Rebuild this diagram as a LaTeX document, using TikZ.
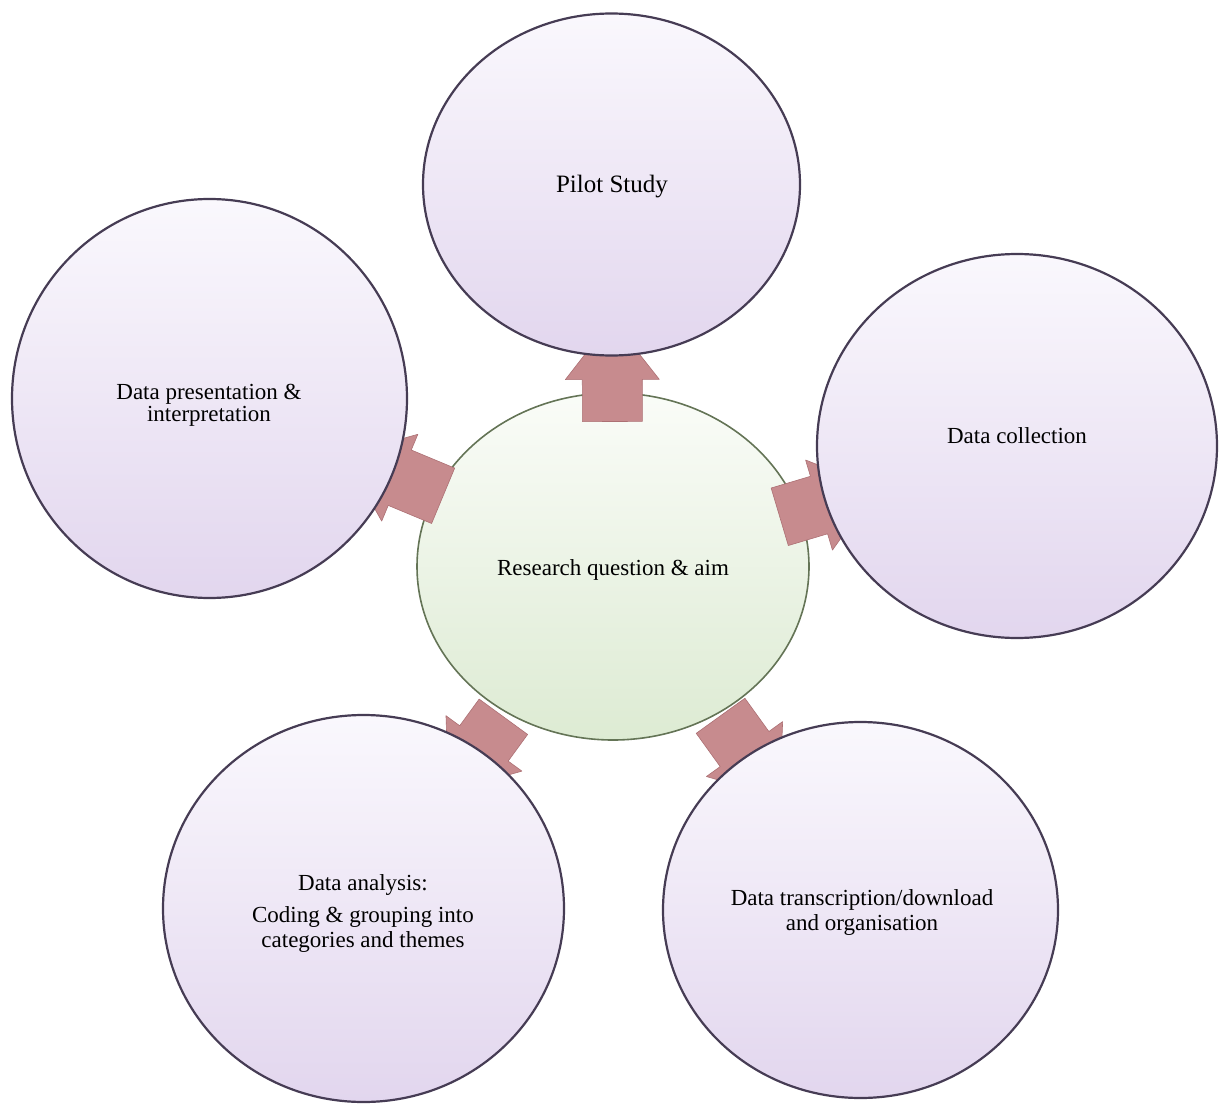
\documentclass[tikz,border=0pt]{standalone}
\usepackage{fontspec}
\setmainfont{Liberation Serif}
\usetikzlibrary{shapes.geometric,calc}
\pgfdeclarelayer{back}
\pgfdeclarelayer{mid}
\pgfsetlayers{back,mid,main}

\definecolor{lavtop}{RGB}{250,248,253}
\definecolor{lavbot}{RGB}{226,214,238}
\definecolor{lavline}{RGB}{70,60,84}
\definecolor{greentop}{RGB}{250,252,248}
\definecolor{greenbot}{RGB}{221,235,211}
\definecolor{greenline}{RGB}{100,116,86}
\definecolor{rosefill}{RGB}{199,139,142}
\definecolor{roseline}{RGB}{172,112,116}

\tikzset{
  stage/.style={ellipse, draw=lavline, line width=2.2pt, inner sep=0pt,
    top color=lavtop, bottom color=lavbot},
  hub/.style={ellipse, draw=greenline, line width=1.6pt, inner sep=0pt,
    top color=greentop, bottom color=greenbot},
  caption/.style={font=\fontsize{23}{25}\selectfont, text=black, align=center, inner sep=0pt},
  arrowbody/.style={fill=rosefill, draw=roseline, line width=0.6pt, line join=round}
}

% block arrow from node #1 towards node #2: body starts at distance #3, head starts at #4
\newcommand{\blockarrow}[4]{%
  \path[arrowbody] let \p1=($(#2)-(#1)$), \n1={atan2(\y1,\x1)} in
    ($(#1)+(\n1:#3pt)+(\n1+90:30pt)$) --
    ($(#1)+(\n1:#4pt)+(\n1+90:30pt)$) --
    ($(#1)+(\n1:#4pt)+(\n1+90:47pt)$) --
    ($(#1)+(\n1:#4pt+60pt)$) --
    ($(#1)+(\n1:#4pt)+(\n1-90:47pt)$) --
    ($(#1)+(\n1:#4pt)+(\n1-90:30pt)$) --
    ($(#1)+(\n1:#3pt)+(\n1-90:30pt)$) -- cycle;
}

\begin{document}
\begin{tikzpicture}[x=1pt,y=-1pt]
  \useasboundingbox (0,0) rectangle (1221,1105);

  % outer stages
  \node[stage, minimum width=377pt, minimum height=342pt] (pilot) at (611.5,184.5) {};
  \node[stage, minimum width=400pt, minimum height=384pt] (collect) at (1017,446) {};
  \node[stage, minimum width=395pt, minimum height=376pt] (transcribe) at (860.5,910) {};
  \node[stage, minimum width=401pt, minimum height=387pt] (analyse) at (363.5,908.5) {};
  \node[stage, minimum width=395pt, minimum height=399pt] (present) at (209.5,398.5) {};

  % central hub
  \begin{pgfonlayer}{back}
    \node[hub, minimum width=392pt, minimum height=347pt] (hub) at (613,566.5) {};
  \end{pgfonlayer}

  % arrows from the hub to each stage
  \begin{pgfonlayer}{mid}
    \blockarrow{hub}{pilot}{145}{187}
    \blockarrow{hub}{collect}{174}{215}
    \blockarrow{hub}{transcribe}{184}{225}
    \blockarrow{hub}{analyse}{186}{219}
    \blockarrow{hub}{present}{184}{231}
  \end{pgfonlayer}

  % labels
  \node[caption, anchor=base, font=\fontsize{25}{27}\selectfont] (pilot-t) at (612,193) {Pilot Study};
  \node[caption, anchor=base] (collect-t) at (1017,443) {Data collection};
  \node[caption, anchor=base] (hub-t) at (613,575) {Research question \& aim};
  \node[caption, font=\fontsize{23}{22}\selectfont] (present-t) at (209,405.7) {Data presentation \&\\interpretation};
  \node[caption] (analyse-t) at (363,913.7) {Data analysis:\\[7pt]Coding \& grouping into\\categories and themes};
  \node[caption] (transcribe-t) at (862,912) {Data transcription/download\\and organisation};
\end{tikzpicture}
\end{document}
